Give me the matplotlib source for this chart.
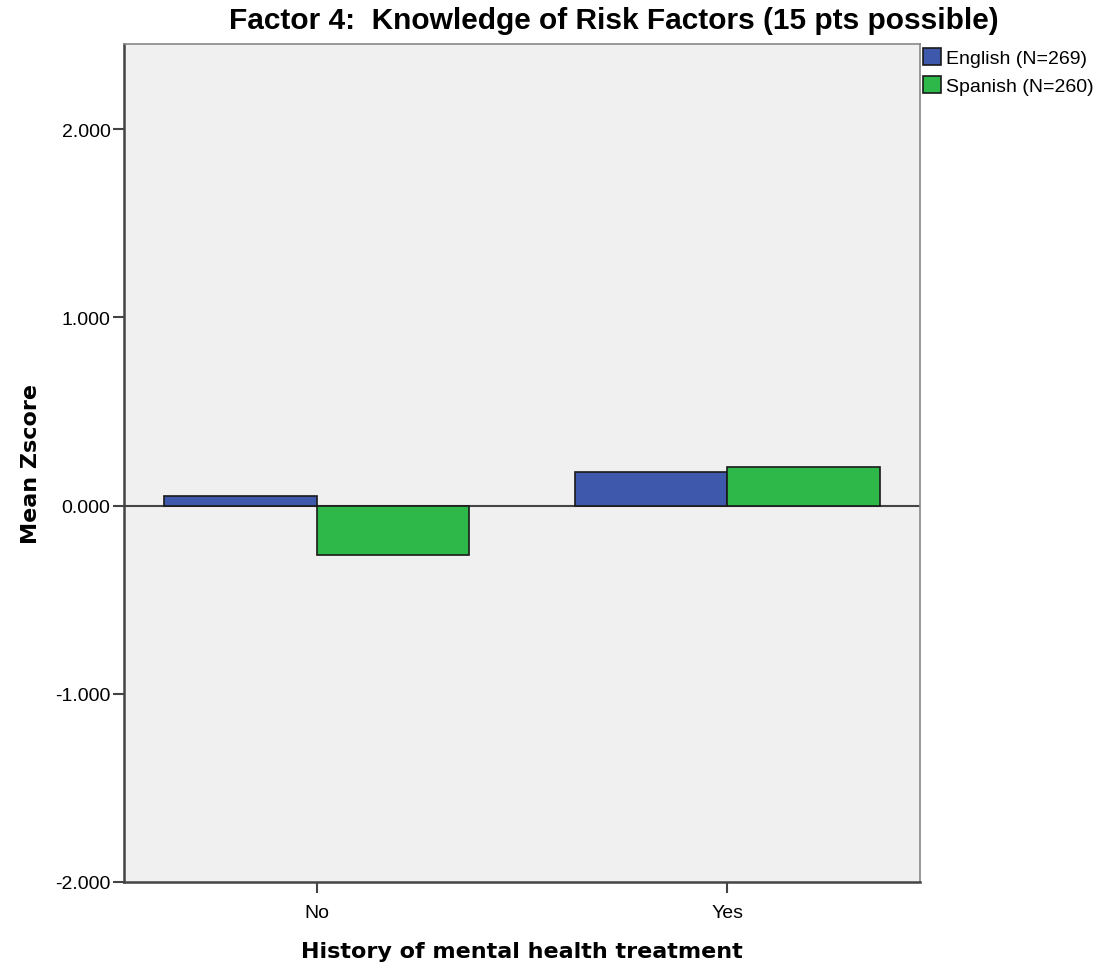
import numpy as np
import matplotlib.pyplot as plt

plt.rcParams['font.family'] = ['Liberation Sans', 'DejaVu Sans']

# data
categories = ["No", "Yes"]
english = [0.049, 0.177]
spanish = [-0.262, 0.203]
series_labels = ["English (N=269)", "Spanish (N=260)"]
yticks = [-2, -1, 0, 1, 2]

fig = plt.figure(figsize=(11.02, 9.70), dpi=100)
ax = fig.add_axes([0.1128, 0.0897, 0.7220, 0.8639])
ax.set_facecolor("#F0F0F0")

x = np.arange(len(categories))
w = 0.371
b1 = ax.bar(x - w/2, english, w, color="#3E58AC", edgecolor="#1a1a1a", linewidth=1.2,
            label=series_labels[0], zorder=3)
b2 = ax.bar(x + w/2, spanish, w, color="#2EB84A", edgecolor="#1a1a1a", linewidth=1.2,
            label=series_labels[1], zorder=3)
ax.axhline(0, color="#444444", lw=1.5, zorder=2)

ax.set_xlim(-0.4686, 1.469)
ax.set_ylim(-2.0, 2.452)
ax.set_yticks(yticks)
ax.set_yticklabels(["%.3f" % v for v in yticks], fontsize=14)
ax.set_xticks(x)
ax.set_xticklabels(categories, fontsize=14)
ax.tick_params(axis="both", direction="out", length=8, width=1.5, color="#444444", pad=2)
ax.tick_params(axis="x", pad=8)

for s in ["left", "bottom"]:
    ax.spines[s].set_color("#444444")
    ax.spines[s].set_linewidth(1.8)
for s in ["top", "right"]:
    ax.spines[s].set_color("#888888")
    ax.spines[s].set_linewidth(1.2)

fig.text(614/1102, 1 - 21/970, "Factor 4:  Knowledge of Risk Factors (15 pts possible)",
         fontsize=21.5, fontweight="bold", ha="center", va="center")
ax.set_xlabel("History of mental health treatment", fontsize=16, fontweight="bold",
              family="DejaVu Sans", labelpad=14)
ax.set_ylabel("Mean Zscore", fontsize=16, fontweight="bold", family="DejaVu Sans",
              labelpad=10)

fig.legend(handles=[b1, b2], loc="upper left", bbox_to_anchor=(0.838, 0.950),
           frameon=False, fontsize=14, handlelength=0.9, handleheight=1.0,
           handletextpad=0.25, borderaxespad=0, borderpad=0.0, labelspacing=0.45)

fig.savefig("out.png", dpi=100)
